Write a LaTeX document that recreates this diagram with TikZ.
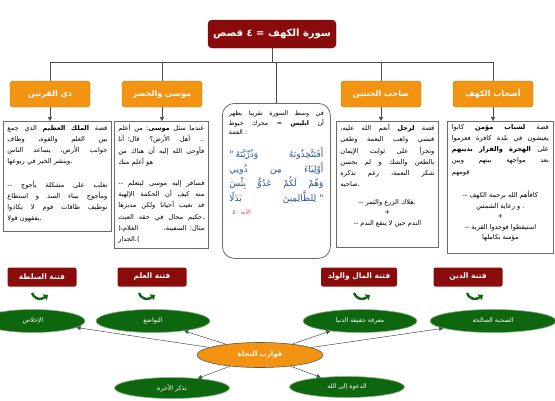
\documentclass[tikz,border=0pt]{standalone}
\usepackage{fontspec}
\usetikzlibrary{shapes.geometric,arrows.meta,calc}
\TeXXeTstate=1
\newfontfamily\arf[Script=Arabic]{DejaVu Sans}
\newfontfamily\arfi[Script=Arabic,FakeSlant=0.2]{DejaVu Sans}
\newcommand\artxt[1]{\beginR #1\endR}
\newcommand\PREx{}
\newcommand\SUFx{}
\newcommand\ps[2]{\gdef\PREx{#1}\gdef\SUFx{#2}}
\newcommand\jl[1]{\leavevmode\hbox to \linewidth{\hskip 0pt plus 0.001fil\spaceskip=2pt plus 1fil\relax\PREx\beginR #1\endR\SUFx}\gdef\PREx{}\gdef\SUFx{}}
\newcommand\lastl[1]{\leavevmode\hbox to \linewidth{\PREx\beginR #1\endR\SUFx\hfil}\gdef\PREx{}\gdef\SUFx{}}
\definecolor{dred}{HTML}{8A0B0B}
\definecolor{orng}{HTML}{F29411}
\definecolor{dgreen}{HTML}{0E660E}
\definecolor{qblue}{HTML}{2F5597}
\definecolor{ayred}{HTML}{C0504D}
\begin{document}
\begin{tikzpicture}[x=1pt,y=-1pt,
  conn/.style={draw=black!70, line width=0.5pt},
  arr/.style={conn, -{Triangle[length=4pt,width=4pt]}},
  titlebox/.style={fill=dred, draw=dred!70!black, rounded corners=4pt, text=white,
    font=\arf\bfseries\fontsize{10}{12}\selectfont, minimum width=128pt, minimum height=28pt, inner sep=0pt},
  obox/.style={fill=orng, draw=orng!75!black, rounded corners=3pt, text=white,
    font=\arf\bfseries\fontsize{8}{10}\selectfont, minimum width=80pt, minimum height=26pt, inner sep=0pt},
  tbox/.style={draw=gray!85!black, line width=0.8pt, fill=white, inner sep=0pt, anchor=north west},
  ttxt/.style={font=\arf\fontsize{6.6}{11.2}\selectfont, align=right, text width=#1, inner sep=0pt, anchor=north},
  ctxt/.style={font=\arf\fontsize{6.6}{10.5}\selectfont, align=center, inner sep=0pt, anchor=north},
  rlab/.style={fill=dred, rounded corners=2pt, text=white,
    font=\arf\bfseries\fontsize{7.5}{9}\selectfont, minimum width=69pt, minimum height=19pt, inner sep=0pt},
  gell/.style={ellipse, fill=dgreen, draw=dgreen!50!white, line width=0.6pt, text=white,
    font=\arf\fontsize{6.3}{7}\selectfont, minimum width=#1, minimum height=23pt, inner sep=0pt},
  ghook/.style={draw=dgreen, line width=2.4pt, -{Triangle[length=4pt,width=7pt]}}
]
\useasboundingbox (0,0) rectangle (555,400);

% title
\node[titlebox] (title) at (272,34) {\artxt{سورة الكهف = ٤ قصص}};

% orange boxes
\node[obox] (dq) at (50,94) {\artxt{ذي القرنين}};
\node[obox] (ms) at (162,94) {\artxt{موسى والخضر}};
\node[obox] (sj) at (381,94) {\artxt{صاحب الجنتين}};
\node[obox] (ak) at (493,94) {\artxt{أصحاب الكهف}};

% text boxes
\node[tbox, minimum width=108pt, minimum height=110pt] (b1) at (3,121) {};
\node[tbox, minimum width=94pt, minimum height=127pt] (b2) at (114,121) {};
\node[tbox, rounded corners=12pt, minimum width=108pt, minimum height=155pt] (cb) at (222,103) {};
\node[tbox, minimum width=102pt, minimum height=126pt] (b4) at (336,121) {};
\node[tbox, minimum width=106pt, minimum height=132pt] (b5) at (447,121) {};

% bus connectors
\coordinate (bus) at (0,62);
\draw[conn] (title.south) -- (title.south |- bus);
\draw[conn] (dq.north |- bus) -- (ak.north |- bus);
\foreach \n in {dq,ms,sj,ak} \draw[conn] (\n.north) -- (\n.north |- bus);
\draw[conn] (cb.north) -- (cb.north |- bus);
\draw[arr] (dq.south) -- (dq.south |- b1.north);
\draw[arr] (ms.south) -- (ms.south |- b2.north);
\draw[arr] (sj.south) -- (sj.south |- b4.north);
\draw[arr] (ak.south) -- (ak.south |- b5.north);

% box texts
\node[ttxt=100pt] (t1) at ([yshift=-4pt]b1.north) {%
\jl{قصة \textbf{الملك العظيم} الذي جمع}\\
\jl{بين العلم والقوة، وطاف}\\
\jl{جوانب الأرض، يساعد الناس}\\
\ps{}{.}\lastl{وينشر الخير في ربوعها}\\[12pt]
\ps{-- }{}\jl{تغلب على مشكلة يأجوج}\\
\jl{ومأجوج ببناء السد و استطاع}\\
\jl{توظيف طاقات قوم لا يكادوا}\\
\ps{}{.}\lastl{يفقهون قولا}};

\node[ttxt=86pt] (t2) at ([yshift=-3pt]b2.north) {%
\jl{عندما سئل \textbf{موسى}: من أعلم}\\
\ps{}{ ..}\jl{أهل الأرض؟ قال: أنا}\\
\jl{فأوحى الله إليه أن هناك من}\\
\lastl{هو أعلم منك}\\[10pt]
\ps{-- }{}\jl{فسافر إليه موسى ليتعلم}\\
\jl{منه كيف أن الحكمة الإلهية}\\
\jl{قد تغيب أحيانا ولكن مدبرها}\\
\ps{}{.}\jl{حكيم محال في حقه العبث}\\
\ps{(}{}\jl{مثال: السفينة، الغلام،}\\
\ps{}{).}\lastl{الجدار}};

\node[ttxt=95pt, font=\arf\fontsize{6.3}{9.5}\selectfont] (t3) at ([yshift=-8pt]cb.north) {%
\jl{في وسط السورة تقريبا يظهر}\\
\jl{أن \textbf{ابليس} = محرك خيوط}\\
\ps{}{ :}\lastl{الفتنة}};
\node[ttxt=94pt, font=\arf\fontsize{9}{14.5}\selectfont, text=qblue] (q3) at ([yshift=-44pt]cb.north) {%
\ps{"\kern2pt}{}\jl{أَفَتَتَّخِذُونَهُ وَذُرِّيَّتَهُ}\\
\jl{أَوْلِيَاءَ مِن دُونِي}\\
\jl{وَهُمْ لَكُمْ عَدُوٌّ بِئْسَ}\\
\ps{}{\kern3pt"}\jl{لِلظَّالِمِينَ بَدَلًا}};
\node[font=\arfi\fontsize{6}{7}\selectfont, text=ayred, inner sep=0pt, anchor=west] (ay) at ([xshift=10pt,yshift=-109pt]cb.north west) {\artxt{الآية ٥٠}};

\node[ttxt=94pt] (t4) at ([yshift=-3pt]b4.north) {%
\jl{قصة \textbf{لرجل} أنعم الله عليه،}\\
\jl{فنسي واهب النعمة وطغى}\\
\jl{وتجرأ على ثوابت الإيمان}\\
\jl{بالطعن والشك و لم يحسن}\\
\jl{شكر النعمة، رغم تذكرة}\\
\ps{}{.}\lastl{صاحبه}};
\node[ctxt] (u4) at ([yshift=-78pt]b4.north) {%
-- \artxt{هلاك الزرع والثمر}.\\
+\\
-- \artxt{الندم حين لا ينفع الندم}};

\node[ttxt=97pt] (t5) at ([yshift=-3pt]b5.north) {%
\jl{قصة \textbf{لشباب مؤمن} كانوا}\\
\jl{يعيشون في بلدة كافرة فعزموا}\\
\jl{على \textbf{الهجرة والفرار بدينهم}}\\
\jl{بعد مواجهة بينهم وبين}\\
\lastl{قومهم}};
\node[ctxt] (u5) at ([yshift=-70pt]b5.north) {%
-- \artxt{كافأهم الله برحمة الكهف}\\
\artxt{و رعاية الشمس} .\\
+\\
-- \artxt{استيقظوا فوجدوا القرية}\\
\artxt{مؤمنة بكاملها}};

% fitna labels
\node[rlab] (f1) at (42,277) {\artxt{فتنة السلطة}};
\node[rlab] (f2) at (152,277) {\artxt{فتنة العلم}};
\node[rlab, minimum width=76pt] (f3) at (359,277) {\artxt{فتنة المال والولد}};
\node[rlab] (f4) at (468,277) {\artxt{فتنة الدين}};

% green hooks
\foreach \x in {40,147,362,475} {
  \draw[ghook] (\x-8,293) .. controls (\x-5,300) and (\x+1,300) .. (\x+8,295);
}

% ellipses
\node[gell=104pt] (e1) at (33,321) {\artxt{الإخلاص}};
\node[gell=114pt] (e2) at (153,321) {\artxt{التواضع}};
\node[gell=114pt] (e3) at (360,321) {\artxt{معرفة حقيقة الدنيا}};
\node[gell=126pt] (e4) at (493,321) {\artxt{الصحبة الصالحة}};
\node[gell=115pt, minimum height=21pt] (e5) at (172,388) {\artxt{تذكر الأخرة}};
\node[gell=115pt, minimum height=21pt] (e6) at (347,387) {\artxt{الدعوة إلى الله}};
\node[ellipse, fill=orng, draw=gray!70!black, line width=0.6pt, text=white,
  font=\arf\bfseries\fontsize{7}{8}\selectfont, minimum width=126pt, minimum height=25pt, inner sep=0pt]
  (nj) at (260,355) {\artxt{قوارب النجاة}};

\foreach \e in {e1,e2,e3,e4,e5,e6} \draw[arr] (nj) -- (\e);
\end{tikzpicture}
\end{document}
